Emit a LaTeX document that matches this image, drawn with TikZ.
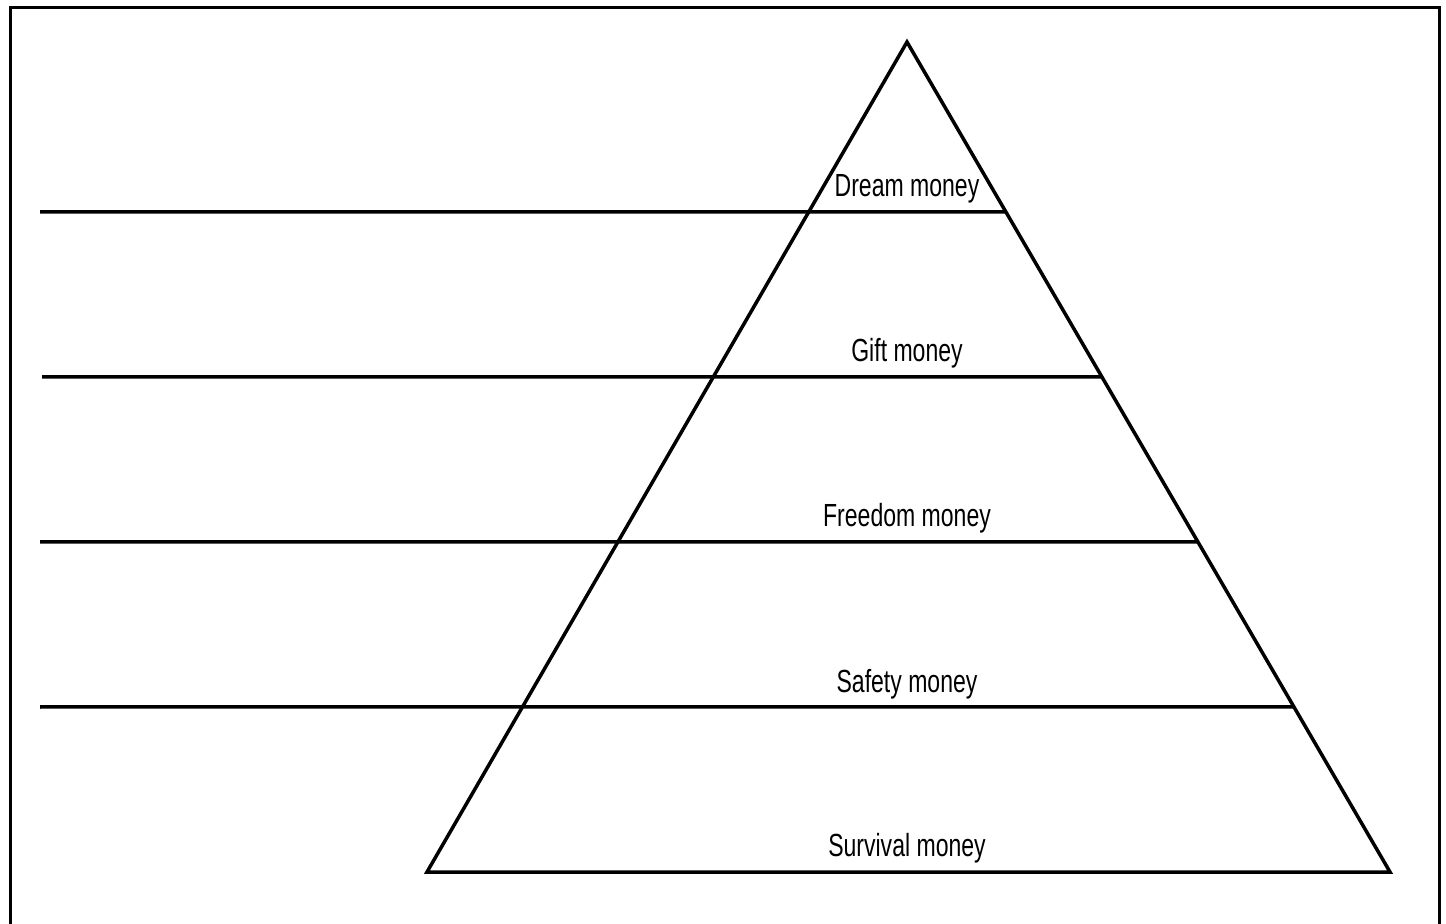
\documentclass[tikz,border=0pt]{standalone}
\usepackage{fontspec}
\setmainfont[FakeStretch=0.72]{Liberation Sans}
\usepackage{tikz}
\usetikzlibrary{calc, positioning}

\tikzset{
    edge/.style={line width=1.75pt, line join=miter},
    level/.style={font=\fontsize{16}{19}\selectfont, anchor=base, inner sep=0pt}
}

\begin{document}
\begin{tikzpicture}[x=0.5pt, y=-0.5pt]

    \useasboundingbox (0,0) rectangle (1446,924);

    % =================================================================
    % 1. KHUNG
    % =================================================================
    \draw[edge, line width=1.9pt] (10.5,926) -- (10.5,7.5) -- (1439.5,7.5) -- (1439.5,926);

    % =================================================================
    % 2. TAM GIAC
    % =================================================================
    \coordinate (top) at (907,42);
    \coordinate (bl) at (427,872);
    \coordinate (br) at (1390,872);
    \draw[edge] (top) -- (bl) -- (br) -- cycle;

    % =================================================================
    % 3. CAC DUONG NGANG
    % =================================================================
    \foreach \y/\xl in {212/40, 377/42, 542/40, 707/40} {
        \coordinate (r\y) at ($(top)!{(\y-42)/830}!(br)$);
        \coordinate (l\y) at (\xl,\y);
        \draw[edge] (l\y) -- (r\y);
    }

    % =================================================================
    % 4. NHAN
    % =================================================================
    \node[level] (dream) at (907,197) {Dream money};
    \node[level] (gift) at (907,362) {Gift money};
    \node[level] (freedom) at (907,527) {Freedom money};
    \node[level] (safety) at (907,692) {Safety money};
    \node[level] (survival) at (907,856) {Survival money};

\end{tikzpicture}
\end{document}
